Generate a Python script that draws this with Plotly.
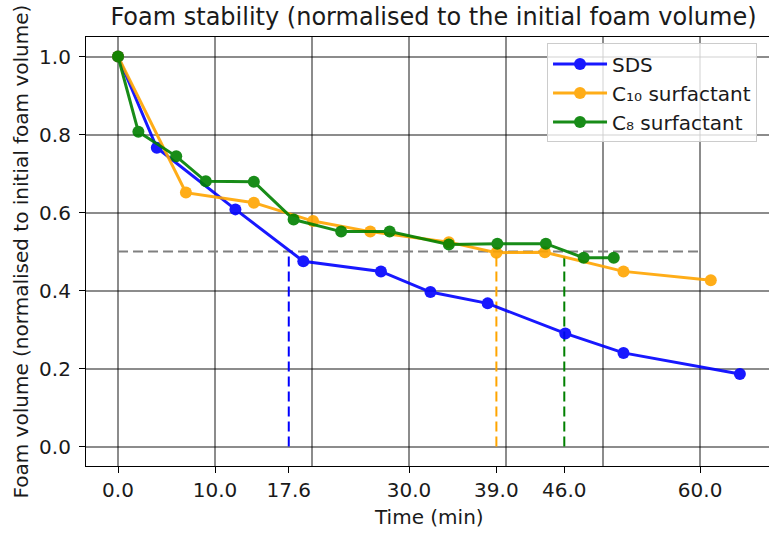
import plotly.graph_objects as go

# ---- data ----
time_sds = [0, 4.0, 12.1, 19.1, 27.1, 32.2, 38.1, 46.1, 52.1, 64.1]
vol_sds = [1.0, 0.766, 0.608, 0.475, 0.449, 0.396, 0.367, 0.290, 0.240, 0.186]

time_c10 = [0, 7.0, 14.0, 20.1, 26.0, 34.1, 39.0, 44.0, 52.1, 61.1]
vol_c10 = [1.0, 0.651, 0.625, 0.578, 0.551, 0.524, 0.497, 0.498, 0.449, 0.426]

time_c8 = [0, 2.1, 6.0, 9.05, 14.0, 18.1, 23.0, 28.0, 34.1, 39.1, 44.1, 48.0, 51.1]
vol_c8 = [1.0, 0.807, 0.744, 0.680, 0.679, 0.582, 0.551, 0.551, 0.518, 0.520, 0.520, 0.484, 0.484]

half_level = 0.5
half_line_x = [0, 60]
half_times = [17.6, 39.0, 46.0]          # SDS, C10, C8
half_colors = ["#0000ff", "#ffa500", "#008000"]

x_tickvals = [0, 10, 17.6, 30, 39, 46, 60]
x_gridvals = [0, 10, 20, 30, 40, 50, 60]
y_tickvals = [0.0, 0.2, 0.4, 0.6, 0.8, 1.0]

series = [
    ("SDS", time_sds, vol_sds, "#0000ff"),
    ("C\u2081\u2080 surfactant", time_c10, vol_c10, "#ffa500"),
    ("C\u2088 surfactant", time_c8, vol_c8, "#008000"),
]

FONT = "DejaVu Sans"
GRID = "rgba(0,0,0,0.45)"

fig = go.Figure()

# dashed reference lines
fig.add_trace(go.Scatter(x=half_line_x, y=[half_level, half_level], mode="lines",
                         line=dict(color="#808080", width=2, dash="10px,5px"),
                         showlegend=False, hoverinfo="skip"))
for t, c in zip(half_times, half_colors):
    fig.add_trace(go.Scatter(x=[t, t], y=[0, half_level], mode="lines",
                             line=dict(color=c, width=2, dash="10px,5px"),
                             showlegend=False, hoverinfo="skip"))

for name, xs, ys, c in series:
    fig.add_trace(go.Scatter(x=xs, y=ys, mode="lines+markers", name=name,
                             line=dict(color=c, width=3),
                             marker=dict(color=c, size=12),
                             opacity=0.9))

fig.update_layout(
    width=769, height=533,
    margin=dict(l=86, r=0, t=37, b=67),
    paper_bgcolor="white", plot_bgcolor="white",
    font=dict(family=FONT, size=20, color="#1a1a1a"),
    title=dict(text="Foam stability (normalised to the initial foam volume)",
               x=433.5 / 769, xref="container", xanchor="center",
               y=1 - 17 / 533, yref="container", yanchor="middle",
               font=dict(family=FONT, size=24, color="#1a1a1a")),
    legend=dict(x=0.675, y=0.985, xanchor="left", yanchor="top",
                bgcolor="rgba(255,255,255,0.8)", bordercolor="#cccccc",
                borderwidth=1, font=dict(family=FONT, size=20, color="#1a1a1a"),
                tracegroupgap=0, itemwidth=54),
    showlegend=True,
)

fig.update_xaxes(
    range=[-3.3, 67.1],
    tickmode="array", tickvals=x_tickvals, tickformat=".1f",
    ticks="outside", ticklen=6, tickwidth=1.2, tickcolor="black",
    showgrid=False, zeroline=False,
    showline=True, linecolor="black", linewidth=1.2, mirror=True,
    minor=dict(tickmode="array", tickvals=x_gridvals, showgrid=True,
               gridcolor=GRID, gridwidth=1.5, ticks=""),
    tickfont=dict(family=FONT, size=20, color="#1a1a1a"),
)
fig.update_yaxes(
    range=[-0.05, 1.05],
    tickmode="array", tickvals=y_tickvals, tickformat=".1f",
    ticks="outside", ticklen=6, tickwidth=1.2, tickcolor="black",
    showgrid=True, gridcolor=GRID, gridwidth=1.5, zeroline=False,
    showline=True, linecolor="black", linewidth=1.2, mirror=False,
    ticklabelstandoff=4,
    tickfont=dict(family=FONT, size=20, color="#1a1a1a"),
)

fig.add_annotation(text="Time (min)", xref="paper", yref="paper",
                   x=(428.5 - 86) / 683, y=(466 - 517) / 429,
                   xanchor="center", yanchor="middle", showarrow=False,
                   font=dict(family=FONT, size=20, color="#1a1a1a"))
fig.add_annotation(text="Foam volume (normalised to initial foam volume)",
                   xref="paper", yref="paper",
                   x=(20 - 86) / 683, y=0.5, textangle=-90,
                   xanchor="center", yanchor="middle", showarrow=False,
                   font=dict(family=FONT, size=20, color="#1a1a1a"))

fig.write_html("out.html")
